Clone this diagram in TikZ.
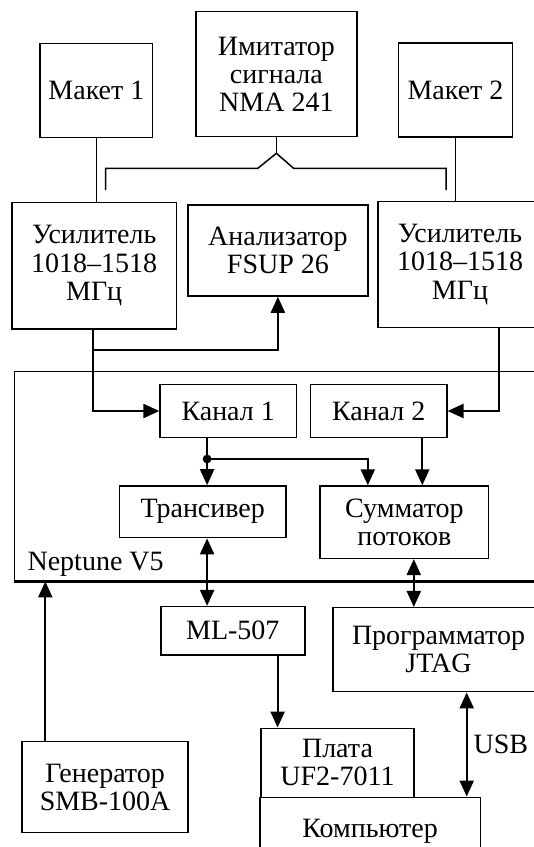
\documentclass[tikz,border=0pt]{standalone}
\usepackage{fontspec}
\setmainfont{Liberation Serif}
\usetikzlibrary{arrows.meta}

\begin{document}
\begin{tikzpicture}[x=0.5pt,y=-0.5pt]
	\tikzstyle{every node}=[font=\fontsize{14pt}{14.15pt}\selectfont]
	\tikzstyle{blk}=[draw, line width=0.75pt, align=center, inner sep=0pt]
	\tikzstyle{ln}=[line width=0.75pt]
	\tikzstyle{arr}=[line width=1.1pt, -{Triangle[length=8pt,width=7pt]}]
	\tikzstyle{darr}=[line width=1.1pt, {Triangle[length=8pt,width=7pt]}-{Triangle[length=8pt,width=7pt]}]
	
	\path[use as bounding box, fill=white] (0,0) rectangle (534,847);
	\clip (0,0) rectangle (534,847);
	
	\node[blk, minimum width=56.2pt, minimum height=47pt] (mak1) at (96.4,90.3) {Макет 1};
	\node[blk, minimum width=80.55pt, minimum height=62.5pt] (imit) at (276.4,74.2) {Имитатор\\сигнала\\NMA 241};
	\node[blk, minimum width=57.05pt, minimum height=47pt] (mak2) at (455.5,90) {Макет 2};
	\node[blk, minimum width=82.25pt, minimum height=63.15pt] (usL) at (94.2,265.8) {Усилитель\\1018--1518\\МГц};
	\node[blk, minimum width=89.9pt, minimum height=45.5pt] (anal) at (277.9,250.5) {Анализатор\\FSUP 26};
	\node[blk, minimum width=82pt, minimum height=62.8pt] (usR) at (460,264.5) {Усилитель\\1018--1518\\МГц};
	
	\node[blk, minimum width=266.85pt, minimum height=104.5pt] (nep) at (281.2,476.2) {};
	\node[anchor=base west, inner sep=0pt] (neplbl) at (27.2,570.7) {Neptune V5};
	\node[blk, minimum width=68.1pt, minimum height=26.7pt] (kan1) at (228.2,411) {Канал 1};
	\node[blk, minimum width=68.1pt, minimum height=26.7pt] (kan2) at (378.7,411) {Канал 2};
	\node[blk, minimum width=83.45pt, minimum height=25.85pt] (trans) at (202.7,511.8) {Трансивер};
	\node[blk, minimum width=84.25pt, minimum height=36.15pt] (summ) at (404.4,522.2) {Сумматор\\потоков};
	
	\node[blk, minimum width=72pt, minimum height=24.15pt] (ml) at (232.8,630.8) {ML-507};
	\node[blk, minimum width=105.4pt, minimum height=42pt] (prog) at (438.5,649.7) {Программатор\\JTAG};
	\node[blk, minimum width=82.95pt, minimum height=45.5pt] (gen) at (105.1,787.2) {Генератор\\SMB-100A};
	\node[blk, minimum width=76.3pt, minimum height=34.5pt] (plata) at (337.5,762.8) {Плата\\UF2-7011};
	\node[blk, minimum width=110.15pt, minimum height=34.5pt] (comp) at (370.1,831.8) {Компьютер};
	
	\draw[line width=1.3pt] (nep.south west) -- (nep.south east);
	
	\coordinate (apex) at (276.4,153.3);
	\coordinate (tapL) at (105.6,190);
	\coordinate (tapR) at (446.2,190);
	\coordinate (br) at (92.6,350);
	\coordinate (dot) at (207.1,459);
	
	\draw[ln] (mak1.south) -- (mak1.south |- usL.north);
	\draw[ln] (mak2.south) -- (mak2.south |- usR.north);
	\draw[ln] (imit.south) -- (apex);
	\draw[ln] (apex) -- ++(-18.6,15) -| (tapL);
	\draw[ln] (apex) -- ++(17.2,15) -| (tapR);
	
	\draw[arr] (usL.south -| br) |- (kan1.west);
	\draw[arr] (br) -| (anal.south);
	\draw[arr] ([xshift=19.5pt]usR.south) |- (kan2.east);
	
	\draw[line width=1.1pt] (kan1.south -| dot) -- (dot);
	\fill (dot) circle (2.2pt);
	\draw[arr] (dot) -- (dot |- trans.north);
	\draw[arr] (dot) -| ([xshift=-18.3pt]summ.north);
	\draw[arr] ([xshift=21.8pt]kan2.south) -- ([xshift=21.8pt]kan2.south |- summ.north);
	
	\draw[darr] (dot |- trans.south) -- (dot |- ml.north);
	\draw[darr] ([xshift=4.7pt]summ.south) -- ([xshift=4.7pt]summ.south |- prog.north);
	\draw[arr] ([xshift=22.4pt]ml.south) -- ([xshift=22.4pt]ml.south |- plata.north);
	\draw[darr] ([xshift=-7.15pt]comp.north east |- prog.south) -- ([xshift=-7.15pt]comp.north east)
	node[pos=0.5, anchor=west, inner sep=0pt, xshift=2.9pt] (usb) {USB};
	\draw[arr] ([xshift=-29.9pt]gen.north) -- ([xshift=-29.9pt]gen.north |- nep.south);
	
\end{tikzpicture}
\end{document}
